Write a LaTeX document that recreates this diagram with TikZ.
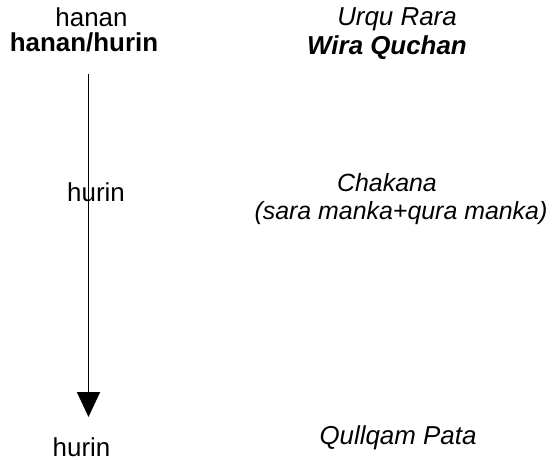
\documentclass[tikz,border=0pt]{standalone}
\usepackage{fontspec}
\setmainfont{Liberation Sans}
\usetikzlibrary{arrows.meta}

\begin{document}
\begin{tikzpicture}[x=1bp,y=-1bp,
  lbl/.style={anchor=base,inner sep=0pt,font=\fontsize{26}{30}\selectfont},
  lblb/.style={lbl,font=\fontsize{26}{30}\selectfont\bfseries},
  lbli/.style={lbl,font=\fontsize{26}{30}\selectfont\itshape},
  lblbi/.style={lbl,font=\fontsize{26}{30}\selectfont\bfseries\itshape},
  lblsi/.style={lbl,font=\fontsize{25}{29}\selectfont\itshape},
  flow/.style={line width=1.8bp,-{Triangle[width=23bp,length=25bp]}}]
\useasboundingbox (0,0) rectangle (552,460);

% left column: hanan / hurin
\node[lbl]  (hanan)  at (91.5,27) {hanan};
\node[lblb] (hh)     at (84,52)   {hanan/hurin};
\node[lbl]  (hmid)   at (96,202)  {hurin};
\node[lbl]  (hbot)   at (81.5,456) {hurin};

% right column
\node[lbli]  (urqu)   at (397,26)  {Urqu Rara};
\node[lblbi] (wira)   at (387,55)  {Wira Quchan};
\node[lblsi] (chak)   at (387,192) {Chakana};
\node[lblsi] (manka)  at (401,220) {(sara manka+qura manka)};
\node[lbli]  (pata)   at (398,444) {Qullqam Pata};

% descending arrow
\coordinate (top) at (88.5,74);
\coordinate (tip) at (88.5,417);
\draw[flow] (top) -- (tip);
\end{tikzpicture}
\end{document}
